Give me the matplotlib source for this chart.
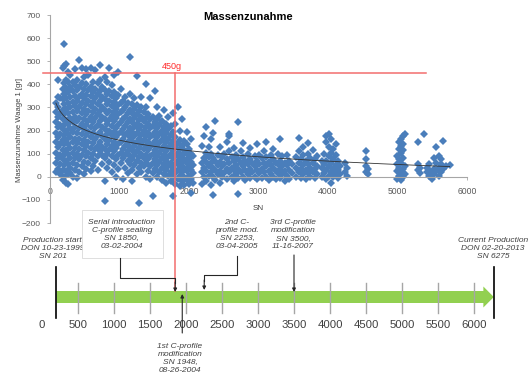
import matplotlib.pyplot as plt
import numpy as np
from matplotlib.patches import Polygon, Rectangle

plt.rcParams['font.family'] = ['Liberation Sans', 'DejaVu Sans']

early_cols = [85, 118, 150, 182, 205, 232, 262, 292, 325, 358, 390, 422, 455, 488, 520, 552, 585, 618]
early_vals = [
    [20, 60, 105, 150, 190, 235, 280, 320],
    [35, 80, 130, 170, 215, 260, 300, 345, 420],
    [10, 55, 95, 140, 185, 225, 270, 340],
    [-15, 30, 75, 115, 160, 205, 250, 290, 335, 380, 470],
    [0, 50, 95, 140, 180, 225, 270, 315, 360, 405, 480, 575],
    [-25, 25, 70, 118, 160, 200, 245, 295, 340, 385, 420, 490],
    [-30, 10, 55, 100, 140, 185, 230, 275, 320, 365, 410, 455],
    [15, 40, 80, 125, 170, 210, 255, 300, 345, 390, 440],
    [0, 60, 105, 150, 195, 235, 280, 325, 370, 410],
    [30, 80, 125, 165, 215, 260, 305, 350, 395, 465],
    [-5, 50, 100, 145, 190, 240, 285, 330, 375, 420],
    [20, 75, 120, 165, 210, 255, 300, 345, 390, 505],
    [45, 95, 140, 185, 230, 275, 320, 360, 405, 470],
    [10, 65, 115, 160, 205, 250, 295, 340, 380, 430],
    [35, 90, 135, 180, 225, 270, 315, 355, 400, 465],
    [60, 105, 150, 195, 240, 285, 330, 375, 440],
    [25, 80, 125, 170, 215, 260, 305, 350, 390, 470],
    [45, 100, 145, 190, 235, 280, 325, 365, 410],
]

mid_cols = [650, 685, 718, 750, 785, 818, 850, 885, 918, 950, 985, 1018, 1050, 1085,
            1118, 1150, 1182, 1215, 1248, 1280, 1315, 1348, 1380]
mid_vals = [
    [70, 120, 165, 210, 255, 295, 340, 380, 460],
    [30, 90, 135, 180, 225, 270, 315, 360, 405],
    [110, 150, 195, 240, 285, 330, 370, 420, 485],
    [55, 95, 130, 175, 215, 260, 300, 345, 390],
    [-105, -20, 80, 120, 165, 205, 250, 290, 335, 375, 430],
    [40, 100, 140, 185, 230, 275, 315, 360, 410],
    [65, 115, 160, 200, 245, 285, 330, 370, 470],
    [20, 90, 135, 180, 220, 265, 305, 350, 395],
    [50, 110, 150, 195, 240, 280, 325, 365, 440],
    [0, 75, 125, 170, 210, 255, 295, 340],
    [35, 95, 140, 185, 225, 270, 310, 355, 455],
    [60, 105, 150, 195, 235, 280, 320, 380],
    [-10, 80, 120, 165, 205, 250, 290, 330],
    [40, 95, 135, 180, 220, 260, 300, 345],
    [15, 70, 110, 150, 195, 235, 275, 320],
    [55, 90, 130, 170, 210, 250, 290, 360, 520],
    [-20, 30, 75, 115, 155, 195, 235, 275, 315],
    [50, 95, 135, 175, 215, 255, 295, 340],
    [10, 70, 110, 150, 190, 230, 270, 310, 435],
    [-112, 40, 85, 125, 165, 205, 245, 285],
    [20, 60, 100, 140, 180, 220, 260, 300, 345],
    [45, 80, 120, 160, 200, 240, 280],
    [0, 60, 95, 135, 175, 215, 255, 300, 400],
]

late_cols = [1412, 1445, 1478, 1510, 1542, 1575, 1608, 1640, 1672, 1705, 1738, 1770, 1802,
             1835, 1868, 1900, 1932, 1965, 1998, 2030, 2062, 2185, 2218, 2250, 2282, 2315,
             2348, 2380, 2412, 2445, 2478]
late_vals = [
    [25, 75, 115, 150, 190, 230, 270],
    [-10, 45, 90, 130, 170, 210, 250, 340],
    [-82, 15, 60, 100, 140, 180, 220, 260],
    [35, 75, 115, 155, 195, 235, 370],
    [0, 50, 90, 130, 170, 210, 250, 300],
    [20, 65, 105, 145, 185, 225, 265],
    [-15, 40, 80, 120, 160, 200, 240],
    [10, 55, 95, 135, 175, 215, 290],
    [-25, 30, 70, 110, 150, 190, 230],
    [5, 45, 85, 125, 165, 205, 260],
    [-20, 20, 60, 100, 140, 180, 220],
    [-82, 0, 40, 80, 115, 155, 195, 275],
    [-30, 15, 55, 90, 130, 170, 230],
    [-10, 30, 70, 105, 145, 300],
    [-40, 5, 45, 85, 120, 160, 200],
    [-20, 20, 60, 95, 135, 250],
    [-35, 0, 40, 75, 115, 155],
    [-15, 25, 60, 100, 140, 195],
    [-30, 5, 45, 80, 120],
    [-69, -10, 30, 65, 100, 165],
    [-25, 15, 50, 90],
    [-30, 20, 60, 135],
    [0, 40, 80, 175],
    [-20, 25, 65, 105, 215],
    [5, 45, 85, 130],
    [-35, 20, 60, 100, 165],
    [-78, 0, 40, 80, 190],
    [-15, 30, 70, 240],
    [10, 50, 95],
    [-25, 25, 65, 130],
    [0, 45, 85],
]

tail_cols = [2510, 2545, 2580, 2612, 2645, 2680, 2712, 2745, 2778, 2810, 2845, 2878, 2910,
             2945, 2978, 3010, 3045, 3080, 3112, 3145, 3180, 3212, 3245, 3280, 3312, 3345,
             3380, 3412, 3445, 3478, 3545, 3580, 3612, 3645, 3680, 3712, 3745, 3780, 3812,
             3845, 3912, 3945, 3978, 4010, 4045, 4078, 4112, 4145, 4178, 4245, 4280, 4540,
             4575, 4990, 5020, 5055, 5085, 5115, 5290, 5320, 5385, 5420, 5455, 5490, 5520,
             5555, 5590, 5625, 5660, 5700, 5750]
tail_vals = [
    [15, 55, 100], [-10, 35, 75, 150], [20, 60, 110, 175, 185], [0, 40, 85],
    [-20, 30, 70, 125], [10, 50, 95], [-73, -5, 35, 75, 238], [20, 60, 110],
    [0, 45, 85, 145], [-15, 30, 70], [10, 55, 100], [-5, 35, 75, 125], [20, 60],
    [0, 45, 90], [-10, 30, 70, 140], [15, 55, 95], [-5, 35, 80], [20, 60, 110],
    [0, 45, 85, 150], [-15, 25, 65], [10, 50, 95], [0, 40, 75, 120], [-10, 25, 60],
    [15, 55, 100], [-5, 35, 70, 165], [10, 45, 90], [-20, 25, 60], [5, 50, 95],
    [-10, 30, 70], [15, 55], [0, 40, 85], [20, 60, 110, 168], [-5, 35, 75],
    [10, 50, 95, 130], [-10, 30, 70], [15, 55, 100, 145], [0, 40, 80], [20, 60, 115],
    [-5, 35, 75], [10, 45, 90], [0, 40, 70], [15, 55, 100], [-10, 30, 70, 150, 175],
    [5, 45, 90, 130, 185], [-27, 20, 60, 105, 165], [0, 35, 75, 120], [15, 50, 95, 140],
    [-5, 30, 70], [10, 45], [20, 60], [5, 40], [20, 45, 75, 110], [10, 35],
    [-10, 25, 55, 90], [5, 40, 75, 120, 150], [-15, 20, 60, 105, 135, 165],
    [0, 35, 80, 115, 140, 175], [10, 45, 185], [30, 55, 150], [15, 40], [185],
    [20, 40], [5, 30, 55], [-10, 20], [10, 35, 80], [25, 60, 130], [5, 40, 90],
    [20, 55, 75], [35, 155], [45], [50],
]

limit_g = 450
limit_x = [-100, 5410]

tl_ticks = [500, 1000, 1500, 2000, 2500, 3000, 3500, 4000, 4500, 5000, 5500, 6000]
tl_labels = [0, 500, 1000, 1500, 2000, 2500, 3000, 3500, 4000, 4500, 5000, 5500, 6000]
sn_start, sn_serial, sn_mod1, sn_mod2, sn_mod3, sn_now = 201, 1850, 1948, 2253, 3500, 6275

txt_start = "Production start\nDON 10-23-1999\nSN 201"
txt_serial = "Serial introduction\nC-profile sealing\nSN 1850,\n03-02-2004"
txt_mod1 = "1st C-profile\nmodification\nSN 1948,\n08-26-2004"
txt_mod2 = "2nd C-\nprofile mod.\nSN 2253,\n03-04-2005"
txt_mod3 = "3rd C-profile\nmodification\nSN 3500,\n11-16-2007"
txt_now = "Current Production\nDON 02-20-2013\nSN 6275"


def flatten(cols, vals):
    xs, ys = [], []
    for c, v in zip(cols, vals):
        xs += [c] * len(v)
        ys += v
    return xs, ys


sn, mz = [], []
for cols, vals in [(early_cols, early_vals), (mid_cols, mid_vals),
                   (late_cols, late_vals), (tail_cols, tail_vals)]:
    a, b = flatten(cols, vals)
    sn += a
    mz += b
sn = np.array(sn, dtype=float)
mz = np.array(mz, dtype=float)

fig = plt.figure(figsize=(5.31, 3.78), dpi=100)

# --- oberes Diagramm (Streudiagramm) ---
ax = fig.add_axes([50 / 531, 1 - 223 / 378, 417 / 531, 208 / 378])
ax.plot(sn, mz, 'D', ms=4.0, color='#4A7EBB', mew=0, zorder=2)

# logarithmische Trendlinie wie in Excel
k, d = np.polyfit(np.log(sn), mz, 1)
xs = np.linspace(sn.min(), sn.max(), 300)
ax.plot(xs, d + k * np.log(xs), color='#333333', lw=0.6, zorder=3)

ax.plot(limit_x, [limit_g, limit_g], color='#F26D6D', lw=1.1, clip_on=False, zorder=4)
ax.text(1755, 478, f"{limit_g}g", color='#FF2B2B', fontsize=6.5, ha='center', va='center')

ax.set_xlim(0, 6000)
ax.set_ylim(-200, 700)
ax.set_xticks(range(0, 6001, 1000))
ax.set_yticks(range(-200, 701, 100))
ax.spines['bottom'].set_position(('data', 0))
for s in ['top', 'right']:
    ax.spines[s].set_visible(False)
for s in ['left', 'bottom']:
    ax.spines[s].set_color('#A6A6A6')
    ax.spines[s].set_linewidth(0.8)
ax.tick_params(axis='both', labelcolor='#595959', color='#A6A6A6', length=2.5, width=0.6)
ax.tick_params(axis='x', pad=4.5, labelsize=6.2)
ax.tick_params(axis='y', pad=4, labelsize=6)
ax.patch.set_alpha(0)

fig.text(248 / 531, 1 - 17 / 378, "Massenzunahme", fontsize=8, fontweight='bold',
         ha='center', va='center')
fig.text(20 / 531, 1 - 130 / 378, "Massenzunahme Waage 1 [gr]", fontsize=5.5,
         rotation=90, ha='center', va='center', color='#404040')
fig.text(258 / 531, 1 - 208 / 378, "SN", fontsize=5.8, ha='center', va='center',
         color='#404040')

# --- Zeitstrahl (x in SN, y in Pixel von oben) ---
tl = fig.add_axes([42 / 531, 0, 468 / 531, 1])
tl.set_xlim(0, 6500)
tl.set_ylim(378, 0)
tl.axis('off')

bar = Polygon([(sn_start, 291), (sn_now - 145, 291), (sn_now - 145, 286.5), (sn_now, 297),
               (sn_now - 145, 307.5), (sn_now - 145, 303), (sn_start, 303)],
              closed=True, facecolor='#92D050', edgecolor='none', zorder=1)
tl.add_patch(bar)
for t in tl_ticks:
    tl.plot([t, t], [283, 313], color='#A6A6A6', lw=1, zorder=2)
for t in tl_labels:
    tl.text(t, 325, str(t), fontsize=8.2, color='#404040', ha='center', va='center')

for x in [sn_start, sn_now]:
    tl.plot([x, x], [267, 318], color='black', lw=1.2, zorder=3)

# rote Linie bei Serieneinführung
tl.plot([sn_serial, sn_serial], [73, 291], color='#F26D6D', lw=1.1, zorder=4)

tkw = dict(fontsize=6, style='italic', color='#404040', ha='center', va='center',
           linespacing=1.2)
akw = dict(arrowstyle='-|>', mutation_scale=5, lw=0.8, color='#262626',
           shrinkA=0, shrinkB=0)

tl.text(150, 248, txt_start, **tkw)
tl.text(6265, 248, txt_now, **tkw)

tl.add_patch(Rectangle((556, 210), 1125, 48, facecolor='white', edgecolor='#D9D9D9',
                       lw=0.6, zorder=5))
tl.text(1110, 234, txt_serial, zorder=6, **tkw)
tl.plot([1086, 1086, sn_serial, sn_serial], [258, 278, 278, 283], color='#262626',
        lw=0.8, zorder=5)
tl.annotate('', xy=(sn_serial, 292), xytext=(sn_serial, 282), arrowprops=akw, zorder=5)

tl.text(2708, 234, txt_mod2, **tkw)
tl.plot([2708, 2708, sn_mod2, sn_mod2], [256, 275, 275, 281], color='#262626', lw=0.8)
tl.annotate('', xy=(sn_mod2, 290), xytext=(sn_mod2, 280), arrowprops=akw)

tl.text(3486, 235, txt_mod3, **tkw)
tl.annotate('', xy=(sn_mod3, 292), xytext=(sn_mod3, 255), arrowprops=akw)

tl.text(1917, 358, txt_mod1, **tkw)
tl.annotate('', xy=(sn_mod1, 294), xytext=(sn_mod1, 333), arrowprops=akw)

fig.savefig('out.png', dpi=100)
